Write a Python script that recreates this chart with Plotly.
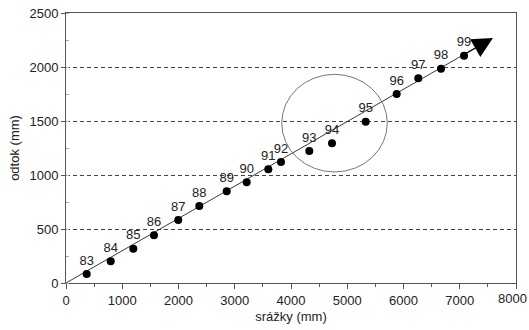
import plotly.graph_objects as go

years = ["83", "84", "85", "86", "87", "88", "89", "90", "91", "92", "93", "94", "95", "96", "97", "98", "99"]
srazky = [368, 795, 1197, 1564, 1996, 2370, 2857, 3212, 3597, 3822, 4326, 4729, 5328, 5879, 6263, 6667, 7076]
odtok = [83, 201, 318, 442, 583, 713, 849, 932, 1053, 1120, 1222, 1293, 1494, 1750, 1895, 1984, 2105]

x_ticks = [0, 1000, 2000, 3000, 4000, 5000, 6000, 7000, 8000]
x_ticklabels = ["0", "1000", "2000", "3000", "4000", "5000", "6000", "7000", "8000"]

trend_slope = 0.299
trend_end_x = 7590
circle_x = [3835, 5712]
circle_y = [1028, 1932]

FONT = "Liberation Sans, Arial, sans-serif"

fig = go.Figure()

# trend line (without head)
fig.add_trace(go.Scatter(
    x=[0, trend_end_x * 0.96], y=[0, trend_slope * trend_end_x * 0.96],
    mode="lines", line=dict(color="#222", width=0.9),
    hoverinfo="skip", showlegend=False))

fig.add_trace(go.Scatter(
    x=srazky, y=odtok, mode="markers+text", text=years,
    textposition="top center",
    textfont=dict(family=FONT, size=13, color="#222"),
    marker=dict(color="black", size=8),
    showlegend=False))

fig.add_annotation(
    x=trend_end_x, y=trend_slope * trend_end_x,
    ax=trend_end_x * 0.93, ay=trend_slope * trend_end_x * 0.93,
    xref="x", yref="y", axref="x", ayref="y",
    showarrow=True, arrowhead=2, arrowsize=3.4, arrowwidth=1.2,
    arrowcolor="black", text="", standoff=0)

fig.add_shape(type="circle", xref="x", yref="y",
              x0=circle_x[0], x1=circle_x[1], y0=circle_y[0], y1=circle_y[1],
              line=dict(color="#777", width=1))

# last x tick label (would be cut by the page edge otherwise)
fig.add_annotation(x=x_ticks[-1], y=0, xref="x", yref="paper",
                   text=x_ticklabels[-1], showarrow=False,
                   yanchor="top", xanchor="center", xshift=-4, yshift=-6,
                   font=dict(family=FONT, size=13, color="#222"))

fig.update_layout(
    width=529, height=330,
    margin=dict(l=66, r=13, t=13, b=47, autoexpand=False),
    paper_bgcolor="white", plot_bgcolor="white",
    font=dict(family=FONT, size=13, color="#222"),
    xaxis=dict(range=[0, 8000], tickvals=x_ticks,
               ticktext=x_ticklabels[:-1] + [""],
               automargin=False,
               showline=True, linecolor="#555", linewidth=1, mirror=True,
               ticks="outside", ticklen=5, tickcolor="#555",
               minor=dict(dtick=500, ticks="outside", ticklen=3, tickcolor="#555"),
               showgrid=False, zeroline=False,
               title=dict(text="srážky (mm)", standoff=5,
                          font=dict(family=FONT, size=13))),
    yaxis=dict(range=[0, 2500], dtick=500, tick0=0,
               automargin=False,
               showline=True, linecolor="#555", linewidth=1, mirror=True,
               ticks="outside", ticklen=4, tickcolor="#555",
               minor=dict(dtick=250, ticks="inside", ticklen=3, tickcolor="#aaa"),
               showgrid=True, gridcolor="#444", gridwidth=0.8, griddash="4px,3px",
               zeroline=False,
               title=dict(text="odtok (mm)", standoff=6,
                          font=dict(family=FONT, size=13))),
)

fig.write_html("out.html",
               config={"displayModeBar": False},
               post_script="document.body.style.margin='0';document.body.style.overflow='hidden';")
